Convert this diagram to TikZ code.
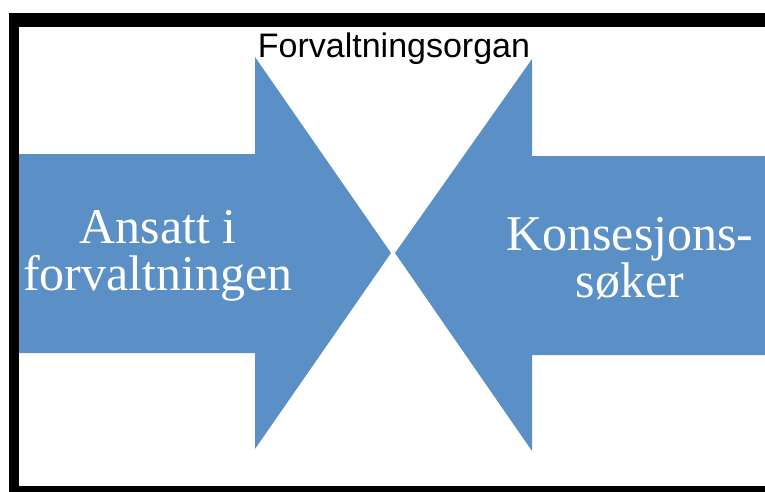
\documentclass[tikz,border=0pt]{standalone}
\usepackage{fontspec}
\setmainfont{Liberation Serif}
\newfontfamily\labelsans{Liberation Sans}
\definecolor{arrowblue}{HTML}{5B90C7}
\begin{document}
\begin{tikzpicture}[x=1pt,y=-1pt,
  arrowtext/.style={text=white,font=\fontsize{50}{47}\selectfont,align=center,inner sep=0pt},
  titletext/.style={text=black,font=\labelsans\fontsize{34}{38}\selectfont,inner sep=0pt,anchor=base}]
\useasboundingbox (0,0) rectangle (765,491);
\begin{scope}
\clip (0,0) rectangle (765,491);
\fill[black] (9,13) rectangle (800,520);
\fill[white] (19,27) rectangle (800,486);
\fill[arrowblue] (19,154) -- (255,154) -- (255,57) -- (391,253) -- (255,449) -- (255,353) -- (19,353) -- cycle;
\fill[arrowblue] (800,156) -- (532,156) -- (532,59) -- (395,253) -- (532,451) -- (532,355) -- (800,355) -- cycle;
\end{scope}
\node[titletext] (org) at (394,57) {Forvaltningsorgan};
\node[arrowtext] (ansatt) at (158,256) {Ansatt i\\forvaltningen};
\node[arrowtext] (soker) at (630,258) {Konsesjons-\\søker};
\end{tikzpicture}
\end{document}
